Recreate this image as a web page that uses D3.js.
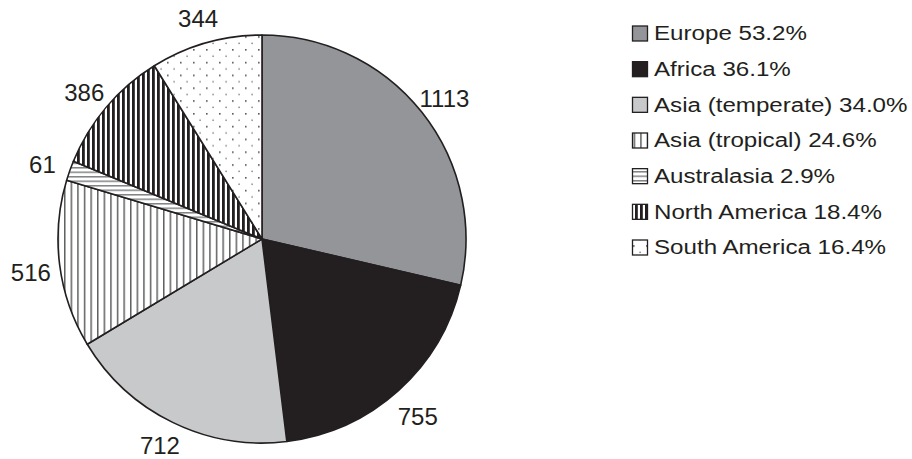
<!DOCTYPE html>
<html>
<head>
<meta charset="utf-8">
<script src="https://cdn.jsdelivr.net/npm/d3@7"></script>
<style>
  body { margin: 0; background: #fff; }
  svg { display: block; font-family: 'Liberation Sans', Arial, Helvetica, sans-serif; }
</style>
</head>
<body>
<svg></svg>
<script>
const w = 912;
const h = 459;

// data
const regions = ['Europe', 'Africa', 'Asia (temperate)', 'Asia (tropical)', 'Australasia', 'North America', 'South America'];
const counts = [1113, 755, 712, 516, 61, 386, 344];
const legendPct = ['53.2%', '36.1%', '34.0%', '24.6%', '2.9%', '18.4%', '16.4%'];

const ink = '#231f20';
const cx = 262;
const cy = 239;
const r = 204;

const svg = d3.select('svg').attr('width', w).attr('height', h);
const defs = svg.append('defs');

// fill patterns, one per region
const fills = [
  '#939598',
  ink,
  '#c8c9cb',
  'url(#p-trop)',
  'url(#p-aus)',
  'url(#p-na)',
  'url(#p-sa)'
];

const trop = defs.append('pattern').attr('id', 'p-trop').attr('patternUnits', 'userSpaceOnUse').attr('width', 6.6).attr('height', 10);
trop.append('rect').attr('width', 6.6).attr('height', 10).attr('fill', '#fff');
trop.append('rect').attr('x', 0).attr('width', 1.5).attr('height', 10).attr('fill', '#5f6062');

const aus = defs.append('pattern').attr('id', 'p-aus').attr('patternUnits', 'userSpaceOnUse').attr('width', 10).attr('height', 4.5);
aus.append('rect').attr('width', 10).attr('height', 4.5).attr('fill', '#fff');
aus.append('rect').attr('y', 0).attr('width', 10).attr('height', 1.5).attr('fill', '#808285');

const na = defs.append('pattern').attr('id', 'p-na').attr('patternUnits', 'userSpaceOnUse').attr('width', 5).attr('height', 10);
na.append('rect').attr('width', 5).attr('height', 10).attr('fill', '#fff');
na.append('rect').attr('x', 0).attr('width', 2.8).attr('height', 10).attr('fill', ink);

const sa = defs.append('pattern').attr('id', 'p-sa').attr('patternUnits', 'userSpaceOnUse').attr('width', 13).attr('height', 12.8);
sa.append('rect').attr('width', 13).attr('height', 12.8).attr('fill', '#fff');
sa.append('rect').attr('x', 9).attr('y', 2).attr('width', 1.6).attr('height', 1.6).attr('fill', '#555');
sa.append('rect').attr('x', 2.4).attr('y', 8.5).attr('width', 1.4).attr('height', 1.4).attr('fill', '#777');

const color = d3.scaleOrdinal().domain(regions).range(fills);

const pie = d3.pie().sort(null).value(d => d.value);
const arcs = pie(regions.map((name, i) => ({ name, value: counts[i] })));

const arc = d3.arc().innerRadius(0).outerRadius(r);
const labelArc = d3.arc().innerRadius(r + 29).outerRadius(r + 29);

const g = svg.append('g').attr('transform', `translate(${cx},${cy})`);

g.selectAll('path')
  .data(arcs)
  .enter()
  .append('path')
  .attr('d', arc)
  .attr('fill', d => color(d.data.name))
  .attr('stroke', ink)
  .attr('stroke-width', 1.6)
  .attr('stroke-linejoin', 'round');

// value labels just outside the rim, nudged down a little, kept inside the frame
g.selectAll('text')
  .data(arcs)
  .enter()
  .append('text')
  .attr('x', d => labelArc.centroid(d)[0])
  .attr('y', d => Math.min(labelArc.centroid(d)[1] + 4, h - cy - 14))
  .attr('text-anchor', 'middle')
  .attr('dominant-baseline', 'central')
  .attr('font-size', 24)
  .attr('fill', ink)
  .text(d => d.data.value);

// legend
const rowY = d3.scalePoint().domain(regions).range([33.5, 247.5]);

const legend = svg.append('g');

legend
  .selectAll('rect')
  .data(regions)
  .enter()
  .append('rect')
  .attr('x', 632.5)
  .attr('y', d => rowY(d) - 7.5)
  .attr('width', 15)
  .attr('height', 15)
  .attr('fill', d => color(d))
  .attr('stroke', ink)
  .attr('stroke-width', 1.3);

legend
  .selectAll('text')
  .data(regions)
  .enter()
  .append('text')
  .attr('transform', d => `translate(654,${rowY(d)}) scale(1.15,1)`)
  .attr('dominant-baseline', 'central')
  .attr('font-size', 21)
  .attr('fill', ink)
  .text((d, i) => `${d} ${legendPct[i]}`);
</script>
</body>
</html>
